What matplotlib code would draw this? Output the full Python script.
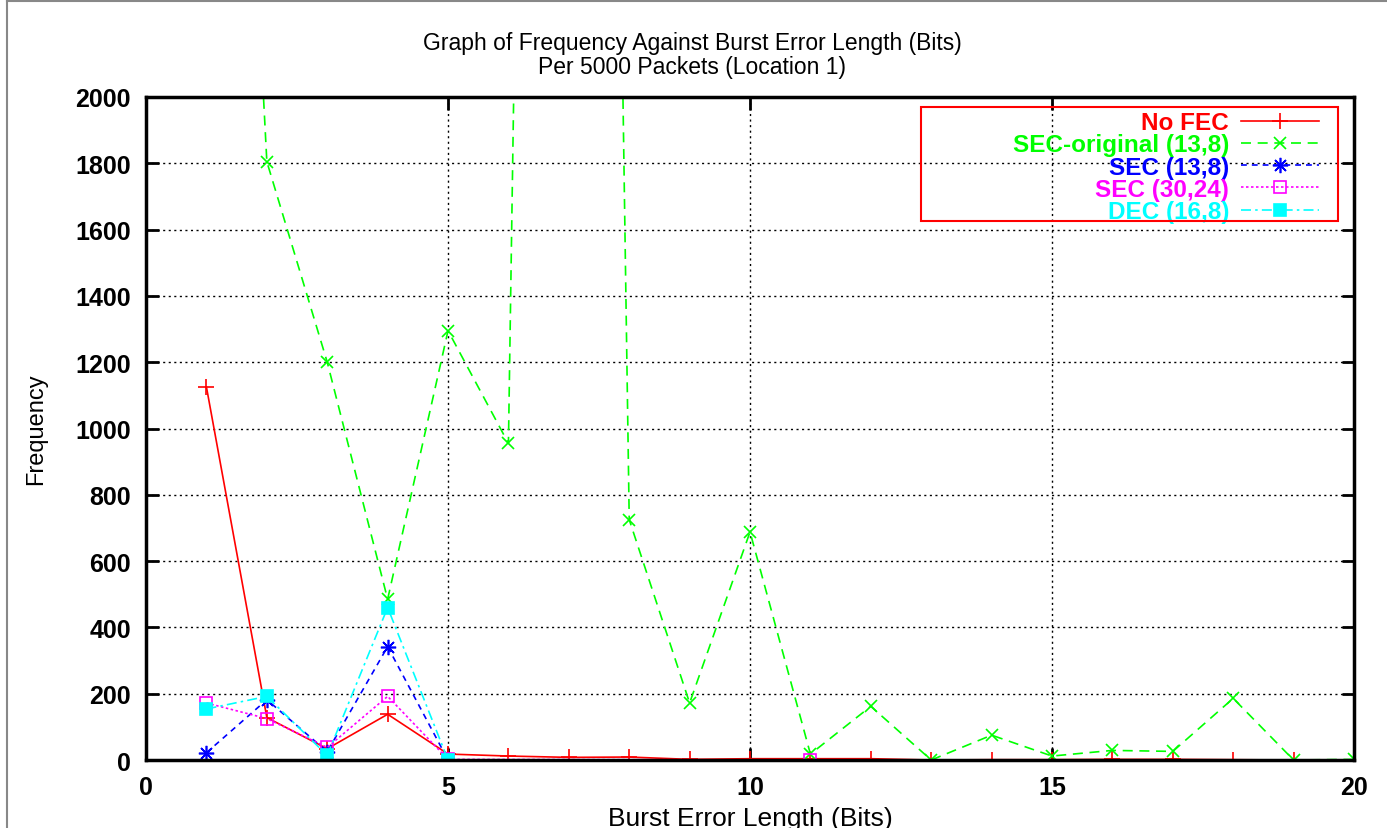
from matplotlib import pyplot as plt
from matplotlib.patches import Rectangle
import numpy as np

# burst error length (bits)
x_all = [1, 2, 3, 4, 5, 6, 7, 8, 9, 10, 11, 12, 13, 14, 15, 16, 17, 18, 19, 20]

# No FEC
no_fec = [1125, 128, 34, 138, 18, 12, 8, 9, 2, 4, 4, 4, 0, 1, 1, 2, 2, 1, 0, 0]
# SEC-original (13,8) - some points are far above the plotted range
sec_orig = [5300, 1805, 1200, 485, 1295, 955, 13000, 725, 172, 688,
            18, 162, 0, 75, 12, 29, 26, 186, 0, 2]
# SEC (13,8)
x_sec = [1, 2, 3, 4, 5]
sec_13_8 = [22, 182, 25, 342, 0]
# SEC (30,24)
x_sec2 = [1, 2, 3, 4, 5, 11]
sec_30_24 = [172, 125, 38, 192, 2, 0]
# DEC (16,8)
x_dec = [1, 2, 3, 4, 5]
dec_16_8 = [154, 192, 14, 460, 0]

fig = plt.figure(figsize=(13.87, 8.29), dpi=100)
ax = fig.add_axes([0.1053, 0.082, 0.8709, 0.7998])

ax.plot(x_all, no_fec, color='#ff0000', lw=1.2, marker='+', ms=11, mew=1.2,
        label='No FEC')
ax.plot(x_all, sec_orig, color='#00ff00', lw=1.2, ls=(0, (6, 4)), marker='x',
        ms=9, mew=1.2, label='SEC-original (13,8)')
ax.plot(x_sec, sec_13_8, color='#0000ff', lw=1.2, ls=(0, (3.5, 3)),
        marker=(8, 2, 0), ms=11, mew=1.2, label='SEC (13,8)')
ax.plot(x_sec2, sec_30_24, color='#ff00ff', lw=1.2, ls=(0, (1.5, 1.5)),
        marker='s', ms=9, mfc='none', mew=1.2, label='SEC (30,24)')
ax.plot(x_dec, dec_16_8, color='#00ffff', lw=1.2, ls=(0, (6, 2.5, 1.5, 2.5)),
        marker='s', ms=9, mew=1.2, label='DEC (16,8)')

ax.set_xlim(0, 20)
ax.set_ylim(0, 2000)
ax.set_xticks(np.arange(0, 21, 5))
ax.set_yticks(np.arange(0, 2001, 200))
ax.grid(True, color='black', ls=(0, (1.5, 2.5)), lw=1.0)
ax.tick_params(direction='in', length=9, width=2, top=True, right=True,
               labelsize=18, pad=11)
for lab in ax.get_xticklabels() + ax.get_yticklabels():
    lab.set_fontfamily('Liberation Sans')
    lab.set_fontweight('bold')
for sp in ax.spines.values():
    sp.set_linewidth(2.5)

ax.set_xlabel('Burst Error Length (Bits)', family='Liberation Sans',
              fontsize=19, labelpad=5)
ax.set_ylabel('Frequency', family='Liberation Sans', fontsize=17, labelpad=20)
ax.set_title('Graph of Frequency Against Burst Error Length (Bits)\n'
             'Per 5000 Packets (Location 1)', family='Liberation Sans',
             fontsize=16.5, linespacing=1.05, pad=17, x=0.452)

# legend with red box (drawn separately)
leg = ax.legend(loc='upper right', bbox_to_anchor=(0.958, 0.8765),
                bbox_transform=fig.transFigure, borderaxespad=0,
                frameon=False, markerfirst=False, numpoints=1,
                handlelength=3.2, handletextpad=0.5, labelspacing=-0.03,
                labelcolor='linecolor',
                prop={'family': 'Liberation Sans', 'weight': 'bold',
                      'size': 17.5})
fig.add_artist(Rectangle((921 / 1387, 1 - 222 / 829), 417 / 1387, 114 / 829,
                         transform=fig.transFigure, fill=False,
                         edgecolor='#ff0000', lw=1.5, zorder=5))

# thin grey page border (top and left)
fig.add_artist(plt.Line2D([7 / 1387, 1], [1 - 2 / 829, 1 - 2 / 829],
                          transform=fig.transFigure, color='#888888', lw=1.5))
fig.add_artist(plt.Line2D([7 / 1387, 7 / 1387], [0, 1 - 2 / 829],
                          transform=fig.transFigure, color='#888888', lw=1.5))

fig.savefig('out.png', dpi=100)
